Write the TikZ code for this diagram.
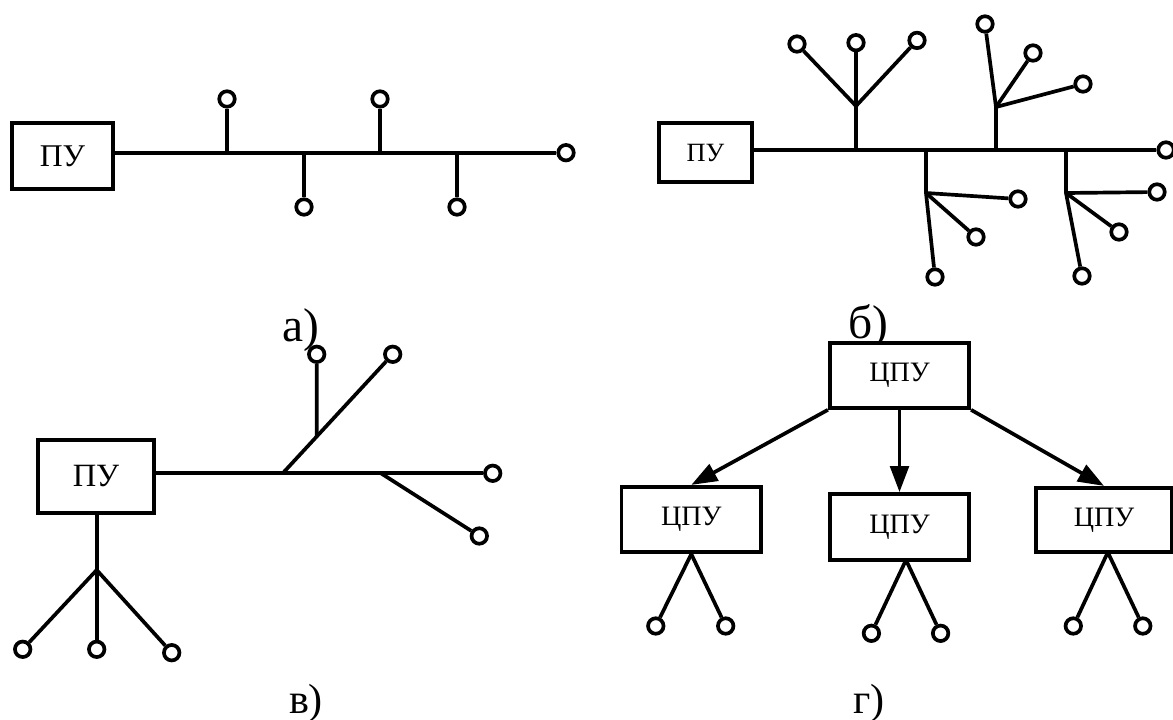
\documentclass[tikz,border=0pt]{standalone}
\usepackage{fontspec}
\setmainfont{Liberation Serif}
\usetikzlibrary{arrows.meta,calc}
\begin{document}
\begin{tikzpicture}[x=0.02cm,y=-0.02cm,line width=2.1pt,
  leaf/.style={circle,draw,fill=white,minimum size=0.31cm,inner sep=0pt},
  unitbox/.style={rectangle,draw,fill=white,inner sep=0pt},
  lbl/.style={inner sep=0pt,anchor=base},
  arr/.style={-{Triangle[length=0.52cm,width=0.37cm]}}]
\useasboundingbox (0,0) rectangle (1173,720);

% ---------------- panel a ----------------
\node[unitbox,minimum width=2.02cm,minimum height=1.32cm,font=\fontsize{18}{18}\selectfont] (pa) at (62.5,156) {ПУ};
\coordinate (ja1) at (227,152.7);
\coordinate (ja2) at (304,152.7);
\coordinate (ja3) at (380,152.7);
\coordinate (ja4) at (457,152.7);
\node[leaf] (la1) at (227,99) {};
\node[leaf] (la2) at (304,207) {};
\node[leaf] (la3) at (380,99) {};
\node[leaf] (la4) at (457,207) {};
\node[leaf] (la5) at (566,152.7) {};
\draw (pa.east |- ja1) -- (la5);
\draw (ja1) -- (la1);
\draw (ja2) -- (la2);
\draw (ja3) -- (la3);
\draw (ja4) -- (la4);
\node[lbl,font=\fontsize{27}{27}\selectfont] (capa) at (301,341) {а)};

% ---------------- panel b ----------------
\node[unitbox,minimum width=1.86cm,minimum height=1.18cm,font=\fontsize{15}{15}\selectfont] (pb) at (705.5,152.5) {ПУ};
\coordinate (mA) at (856,150);
\coordinate (mB) at (926,150);
\coordinate (mC) at (996,150);
\coordinate (mD) at (1066,150);
\coordinate (jA) at (856,106);
\coordinate (jB) at (926,193);
\coordinate (jC) at (996,107);
\coordinate (jD) at (1066,193);
\node[leaf] (lend) at (1166,150) {};
\node[leaf] (lA1) at (797,44) {};
\node[leaf] (lA2) at (856,42.7) {};
\node[leaf] (lA3) at (917,40.4) {};
\node[leaf] (lB1) at (1018,199) {};
\node[leaf] (lB2) at (976,237) {};
\node[leaf] (lB3) at (935,277) {};
\node[leaf] (lC1) at (985,24) {};
\node[leaf] (lC2) at (1033,53) {};
\node[leaf] (lC3) at (1083,84) {};
\node[leaf] (lD1) at (1157,192) {};
\node[leaf] (lD2) at (1119,232) {};
\node[leaf] (lD3) at (1082,276) {};
\draw (pb.east |- mA) -- (lend);
\draw (mA) -- (lA2);
\draw (jA) -- (lA1);
\draw (jA) -- (lA3);
\draw (mB) -- (jB) -- (lB3);
\draw (jB) -- (lB1);
\draw (jB) -- (lB2);
\draw (mC) -- (jC) -- (lC1);
\draw (jC) -- (lC2);
\draw (jC) -- (lC3);
\draw (mD) -- (jD) -- (lD3);
\draw (jD) -- (lD1);
\draw (jD) -- (lD2);
\node[lbl,font=\fontsize{27}{27}\selectfont] (capb) at (868,338) {б)};

% ---------------- panel v ----------------
\node[unitbox,minimum width=2.32cm,minimum height=1.46cm,font=\fontsize{18.5}{18.5}\selectfont] (pv) at (96,476.5) {ПУ};
\coordinate (jv1) at (282.7,473.3);
\coordinate (jv2) at (381,473.3);
\coordinate (jv3) at (96.7,570);
\node[leaf] (lv1) at (492.7,473.3) {};
\node[leaf] (lv2) at (392.7,354.3) {};
\node[leaf] (lv3) at (316.7,354.3) {};
\node[leaf] (lv4) at (479.3,536) {};
\node[leaf] (lv5) at (22.7,649.3) {};
\node[leaf] (lv6) at (96.7,649.3) {};
\node[leaf] (lv7) at (171.7,652.7) {};
\coordinate (jvd) at ($(jv1)!0.309!(lv2)$);
\draw (pv.east |- jv1) -- (lv1);
\draw (jv1) -- (lv2);
\draw (jvd) -- (lv3);
\draw (jv2) -- (lv4);
\draw (pv.south -| jv3) -- (lv6);
\draw (jv3) -- (lv5);
\draw (jv3) -- (lv7);
\node[lbl,font=\fontsize{24}{24}\selectfont] (capv) at (306,713) {в)};

% ---------------- panel g ----------------
\tikzset{cpu/.style={unitbox,minimum width=2.79cm,minimum height=1.31cm,font=\fontsize{16}{16}\selectfont}}
\node[cpu,minimum height=1.3cm] (gt) at (899.5,375.5) {ЦПУ};
\node[cpu] (gl) at (691.3,519.5) {ЦПУ};
\node[cpu,minimum height=1.32cm] (gm) at (899.5,527) {ЦПУ};
\node[cpu,minimum width=2.72cm,minimum height=1.29cm] (gr) at (1104,520) {ЦПУ};
\draw[arr] (gt.south west) -- (gl.north);
\draw[arr] (gt.south) -- (gm.north);
\draw[arr] (gt.south east) -- (gr.north);
\coordinate (jgm) at (906,560);
\coordinate (jgr) at (1107.8,552.3);
\node[leaf] (lg1) at (655.8,626) {};
\node[leaf] (lg2) at (725.7,626) {};
\node[leaf] (lg3) at (871.4,633.3) {};
\node[leaf] (lg4) at (940.6,633.3) {};
\node[leaf] (lg5) at (1073.3,626) {};
\node[leaf] (lg6) at (1142.8,626) {};
\draw (gl.south) -- (lg1);
\draw (gl.south) -- (lg2);
\draw (jgm) -- (lg3);
\draw (jgm) -- (lg4);
\draw (jgr) -- (lg5);
\draw (jgr) -- (lg6);
\node[lbl,font=\fontsize{24}{24}\selectfont] (capg) at (869,713) {г)};
\end{tikzpicture}
\end{document}
